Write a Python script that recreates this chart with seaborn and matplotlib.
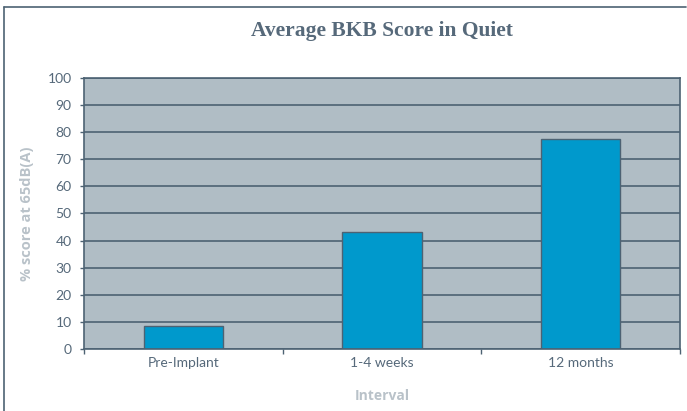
import numpy as np
import pandas as pd
import matplotlib.pyplot as plt
import seaborn as sns
from matplotlib.lines import Line2D
from matplotlib.ticker import FixedLocator

# Data
INTERVALS = ["Pre-Implant", "1-4 weeks", "12 months"]
SCORES = [8.5, 43, 77.5]
Y_TICKS = [0, 10, 20, 30, 40, 50, 60, 70, 80, 90, 100]

BG = "#b0bdc5"
GRID = "#4d6273"
BAR = "#0099cc"
EDGE = "#4d6273"
TEXT = "#56697a"
LABEL = "#b9c2c9"

sns.set_theme(style="white")
plt.rcParams['font.family'] = ['Lato', 'DejaVu Sans']

df = pd.DataFrame({"Interval": INTERVALS, "Score": SCORES})

fig = plt.figure(figsize=(6.87, 4.11), dpi=100)
ax = fig.add_axes([0.1223, 0.1509, 0.8675, 0.6593])

sns.barplot(data=df, x="Interval", y="Score", color=BAR, width=0.4,
            edgecolor=EDGE, linewidth=1, saturation=1, ax=ax)

ax.set_facecolor(BG)
ax.set_xlim(-0.5, 2.5)
ax.set_ylim(0, 100)
ax.set_yticks(Y_TICKS)
ax.yaxis.grid(True, color=GRID, linewidth=1.2)
ax.set_axisbelow(True)

for s in ax.spines.values():
    s.set_color(GRID)
    s.set_linewidth(1.2)

# category labels without ticks, tick marks at category borders
ax.tick_params(axis="x", which="major", length=0, pad=6, labelsize=10, labelcolor=TEXT)
ax.xaxis.set_minor_locator(FixedLocator([-0.5, 0.5, 1.5, 2.5]))
ax.tick_params(axis="x", which="minor", bottom=True, length=3.5, width=1, color=GRID)
ax.tick_params(axis="y", left=True, length=3, width=1, color=GRID, pad=6,
               labelsize=10, labelcolor=TEXT)

ax.set_xlabel("Interval", fontsize=10, fontweight="bold", color=LABEL, labelpad=14,
              family="Open Sans")
ax.set_ylabel("% score at 65dB(A)", fontsize=10.5, fontweight="bold", color=LABEL,
              labelpad=10, family="Open Sans")

fig.text(0.556, 0.924, "Average BKB Score in Quiet", ha="center", va="center",
         fontsize=15.5, fontweight="bold", color=TEXT, family="Liberation Serif")

# outer frame (top and left only)
fig.add_artist(Line2D([0.006, 0.998], [0.983, 0.983], transform=fig.transFigure,
                      color=GRID, linewidth=1.2))
fig.add_artist(Line2D([0.006, 0.006], [0.0, 0.983], transform=fig.transFigure,
                      color=GRID, linewidth=1.2))

fig.savefig("out.png", dpi=100)
